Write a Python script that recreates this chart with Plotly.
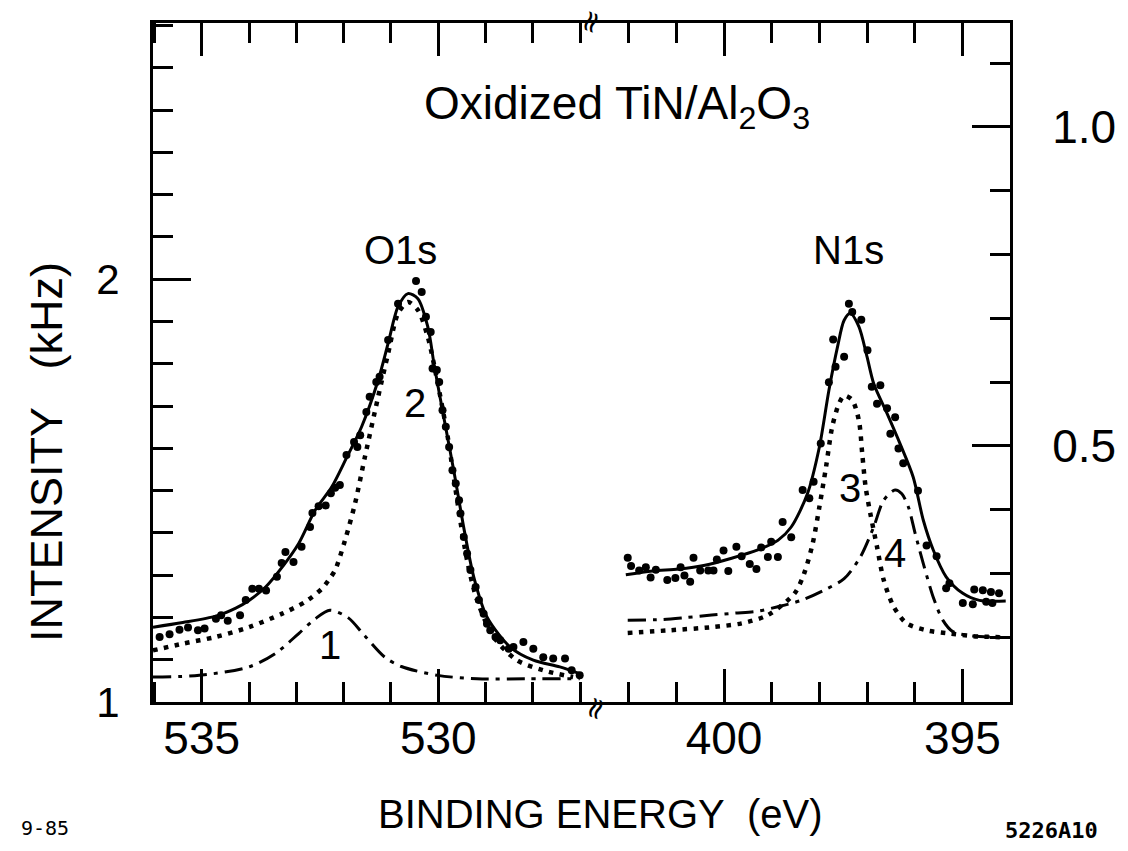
import plotly.graph_objects as go

# ---------------- O1s panel (left axis, kHz) ----------------
o1s_fit_x = [536.03, 535.40, 534.70, 534.28, 534.00, 533.65, 533.30, 532.95, 532.60, 532.25,
             531.95, 531.62, 531.27, 531.06, 530.85, 530.64, 530.43, 530.22, 530.08, 529.87,
             529.66, 529.45, 529.25, 528.97, 528.48, 527.99, 527.43, 527.01]
o1s_fit_y = [1.177, 1.188, 1.203, 1.222, 1.240, 1.272, 1.319, 1.375, 1.454, 1.509,
             1.575, 1.651, 1.761, 1.848, 1.935, 1.966, 1.954, 1.887, 1.793, 1.666,
             1.540, 1.406, 1.296, 1.201, 1.130, 1.099, 1.083, 1.067]

o1s_c2_x = [536.03, 535.40, 534.70, 534.00, 533.30, 532.81, 532.46, 532.32, 532.18, 531.97,
            531.76, 531.55, 531.27, 531.06, 530.85, 530.64, 530.43, 530.22, 530.01, 529.80,
            529.60, 529.39, 529.18, 528.83, 528.34, 527.78, 527.15]
o1s_c2_y = [1.122, 1.138, 1.154, 1.177, 1.209, 1.237, 1.268, 1.288, 1.312, 1.383,
            1.469, 1.580, 1.722, 1.824, 1.919, 1.946, 1.927, 1.863, 1.753, 1.627,
            1.477, 1.335, 1.241, 1.154, 1.099, 1.075, 1.059]

o1s_c1_x = [536.03, 535.05, 534.00, 533.44, 532.95, 532.60, 532.29, 531.90, 531.55, 531.13,
            530.78, 530.01, 529.18, 528.13, 527.01]
o1s_c1_y = [1.059, 1.063, 1.083, 1.115, 1.162, 1.197, 1.217, 1.199, 1.156, 1.106,
            1.084, 1.063, 1.055, 1.055, 1.055]

o1s_data_x = [535.89, 535.68, 535.47, 535.29, 535.08, 534.94, 534.70, 534.59, 534.45, 534.19,
              534.07, 533.93, 533.79, 533.64, 533.41, 533.31, 533.23, 533.06, 532.89, 532.71,
              532.66, 532.53, 532.38, 532.27, 532.18, 532.08, 531.94, 531.78, 531.71, 531.65,
              531.52, 531.45, 531.31, 531.24, 531.06, 530.85, 530.47, 530.35, 530.26, 530.16,
              530.12, 530.03, 529.98, 529.91, 529.84, 529.77, 529.70, 529.63, 529.56, 529.53,
              529.46, 529.39, 529.32, 529.21, 529.14, 529.04, 528.97, 528.90, 528.79, 528.69,
              528.51, 528.41, 528.20, 527.99, 527.78, 527.57, 527.32, 527.18, 527.01]
o1s_data_y = [1.154, 1.160, 1.171, 1.176, 1.170, 1.174, 1.197, 1.205, 1.192, 1.205,
              1.241, 1.268, 1.268, 1.264, 1.296, 1.329, 1.355, 1.331, 1.367, 1.414,
              1.447, 1.463, 1.465, 1.494, 1.507, 1.513, 1.584, 1.615, 1.603, 1.631,
              1.686, 1.722, 1.757, 1.769, 1.856, 1.942, 1.996, 1.970, 1.911, 1.875,
              1.789, 1.785, 1.757, 1.690, 1.651, 1.603, 1.548, 1.517, 1.477, 1.446,
              1.390, 1.351, 1.312, 1.272, 1.241, 1.209, 1.185, 1.170, 1.154, 1.146,
              1.126, 1.130, 1.142, 1.126, 1.106, 1.103, 1.103, 1.075, 1.063]

# ---------------- N1s panel (right axis) ----------------
n1s_fit_x = [402.06, 401.50, 400.95, 400.40, 399.84, 399.29, 398.87, 398.59, 398.25, 398.00,
             397.80, 397.62, 397.48, 397.35, 397.17, 397.00, 396.86, 396.58, 396.31, 396.03,
             395.82, 395.61, 395.34, 394.99, 394.64, 394.09]
n1s_fit_y = [0.298, 0.304, 0.307, 0.313, 0.324, 0.337, 0.352, 0.373, 0.425, 0.498,
             0.587, 0.655, 0.697, 0.708, 0.687, 0.640, 0.598, 0.551, 0.504, 0.451,
             0.384, 0.337, 0.295, 0.269, 0.258, 0.257]

n1s_c3_x = [402.02, 401.16, 400.26, 399.63, 399.08, 398.52, 398.32, 398.14, 398.00, 397.86,
            397.73, 397.59, 397.48, 397.31, 397.17, 397.10, 397.03, 396.93, 396.79, 396.65,
            396.44, 396.17, 395.75, 395.27, 394.78, 394.09]
n1s_c3_y = [0.207, 0.211, 0.216, 0.222, 0.235, 0.269, 0.300, 0.347, 0.404, 0.467,
            0.530, 0.566, 0.579, 0.572, 0.540, 0.488, 0.436, 0.394, 0.342, 0.290,
            0.248, 0.222, 0.211, 0.206, 0.202, 0.200]

n1s_c4_x = [402.02, 401.30, 400.81, 400.26, 399.77, 399.29, 398.87, 398.38, 397.90, 397.48,
            397.14, 396.86, 396.65, 396.41, 396.27, 396.13, 395.99, 395.82, 395.61, 395.41,
            395.20, 394.78, 394.09]
n1s_c4_y = [0.227, 0.228, 0.231, 0.235, 0.238, 0.241, 0.248, 0.258, 0.274, 0.292,
            0.326, 0.373, 0.415, 0.431, 0.425, 0.404, 0.363, 0.316, 0.263, 0.227,
            0.209, 0.202, 0.200]

n1s_data_x = [402.02, 401.95, 401.78, 401.64, 401.54, 401.43, 401.19, 401.02, 400.91, 400.83,
              400.71, 400.64, 400.50, 400.33, 400.22, 400.15, 400.01, 399.91, 399.74, 399.63,
              399.46, 399.32, 399.22, 399.08, 399.01, 398.87, 398.77, 398.59, 398.35, 398.21,
              398.12, 397.97, 397.80, 397.71, 397.66, 397.48, 397.38, 397.31, 397.12, 396.99,
              396.90, 396.79, 396.72, 396.58, 396.51, 396.41, 396.34, 396.24, 395.93, 395.75,
              395.54, 395.34, 395.27, 394.99, 394.78, 394.75, 394.57, 394.50, 394.40, 394.37,
              394.23]
n1s_data_y = [0.325, 0.312, 0.305, 0.310, 0.294, 0.306, 0.290, 0.293, 0.310, 0.297,
              0.287, 0.325, 0.305, 0.305, 0.305, 0.322, 0.336, 0.304, 0.342, 0.327,
              0.315, 0.307, 0.341, 0.326, 0.350, 0.326, 0.381, 0.357, 0.431, 0.418,
              0.444, 0.504, 0.600, 0.667, 0.624, 0.640, 0.723, 0.710, 0.698, 0.650,
              0.593, 0.566, 0.595, 0.559, 0.519, 0.545, 0.496, 0.473, 0.430, 0.344,
              0.327, 0.277, 0.285, 0.254, 0.252, 0.275, 0.274, 0.256, 0.271, 0.254,
              0.269]

left_ticks = [530, 535]
right_ticks = [395, 400]
left_y_ticks = [1, 2]
right_y_ticks = [0.5, 1.0]
right_y_labels = ["0.5", "1.0"]

FONT = "Liberation Sans"
K = "black"

fig = go.Figure()

spline = dict(shape="spline", smoothing=0.8)
DOT = "4.5px,6.5px"
DASHDOT = "18px,7px,4px,7px"

# O1s
fig.add_trace(go.Scatter(x=o1s_c1_x, y=o1s_c1_y, mode="lines", xaxis="x", yaxis="y",
                         line=dict(color=K, width=3, dash=DASHDOT, **spline)))
fig.add_trace(go.Scatter(x=o1s_c2_x, y=o1s_c2_y, mode="lines", xaxis="x", yaxis="y",
                         line=dict(color=K, width=4.5, dash=DOT, **spline)))
fig.add_trace(go.Scatter(x=o1s_fit_x, y=o1s_fit_y, mode="lines", xaxis="x", yaxis="y",
                         line=dict(color=K, width=3, **spline)))
fig.add_trace(go.Scatter(x=o1s_data_x, y=o1s_data_y, mode="markers", xaxis="x", yaxis="y",
                         marker=dict(color=K, size=8)))
# N1s
fig.add_trace(go.Scatter(x=n1s_c4_x, y=n1s_c4_y, mode="lines", xaxis="x2", yaxis="y2",
                         line=dict(color=K, width=3, dash=DASHDOT, **spline)))
fig.add_trace(go.Scatter(x=n1s_c3_x, y=n1s_c3_y, mode="lines", xaxis="x2", yaxis="y2",
                         line=dict(color=K, width=4.5, dash=DOT, **spline)))
fig.add_trace(go.Scatter(x=n1s_fit_x, y=n1s_fit_y, mode="lines", xaxis="x2", yaxis="y2",
                         line=dict(color=K, width=3, **spline)))
fig.add_trace(go.Scatter(x=n1s_data_x, y=n1s_data_y, mode="markers", xaxis="x2", yaxis="y2",
                         marker=dict(color=K, size=8)))

BRK = 0.515
tickfont = dict(family=FONT, size=46, color=K)
xcommon = dict(showline=True, linewidth=3, linecolor=K, mirror="ticks", ticks="inside",
               ticklen=33, tickwidth=2.5, tickcolor=K, showgrid=False, zeroline=False,
               tickfont=tickfont, ticklabelstandoff=-6)

fig.update_layout(
    width=1128, height=851,
    margin=dict(l=153, r=111, t=23, b=149),
    paper_bgcolor="white", plot_bgcolor="white",
    showlegend=False,
    xaxis=dict(domain=[0, BRK], anchor="y", range=[536.03, 526.70], tickmode="array",
               tickvals=left_ticks,
               minor=dict(tickmode="linear", tick0=527, dtick=1, ticklen=20, tickwidth=2.5,
                          tickcolor=K, ticks="inside"), **xcommon),
    xaxis2=dict(domain=[BRK, 1], anchor="y2", range=[402.72, 394.0], tickmode="array",
                tickvals=right_ticks,
                minor=dict(tickmode="linear", tick0=394, dtick=1, ticklen=20, tickwidth=2.5,
                           tickcolor=K, ticks="inside"), **xcommon),
    yaxis=dict(domain=[0, 1], anchor="x", range=[1, 2.606], tickmode="array",
               tickvals=left_y_ticks, ticks="inside", ticklen=38, tickwidth=2.5, tickcolor=K,
               showline=True, linewidth=3, linecolor=K, showgrid=False, zeroline=False,
               tickfont=dict(family=FONT, size=42, color=K), ticklabelstandoff=22,
               minor=dict(tickmode="linear", tick0=1, dtick=0.1, ticklen=20, tickwidth=2.5,
                          tickcolor=K, ticks="inside")),
    yaxis2=dict(domain=[0, 1], anchor="x2", side="right", range=[0.0987, 1.163],
                tickmode="array", tickvals=right_y_ticks, ticktext=right_y_labels,
                ticks="inside", ticklen=38, tickwidth=2.5, tickcolor=K,
                showline=True, linewidth=3, linecolor=K, showgrid=False, zeroline=False,
                tickfont=dict(family=FONT, size=46, color=K), ticklabelstandoff=30,
                minor=dict(tickmode="linear", tick0=0, dtick=0.1, ticklen=20, tickwidth=2.5,
                           tickcolor=K, ticks="inside")),
)


def px(x):
    return (x - 153) / 864


def py(y):
    return (701.7 - y) / 678.7


lab = dict(family=FONT, size=40, color=K)
C = dict(showarrow=False, xanchor="center", yanchor="middle")
ann = [
    dict(text="Oxidized TiN/Al<sub>2</sub>O<sub>3</sub>", xref="paper", yref="paper",
         x=px(621), y=py(106), font=dict(family=FONT, size=46, color=K), **C),
    dict(text="O1s", xref="x", yref="y", x=530.79, y=2.069, font=lab, **C),
    dict(text="2", xref="x", yref="y", x=530.50, y=1.707, font=lab, **C),
    dict(text="1", xref="x", yref="y", x=532.29, y=1.134, font=lab, **C),
    dict(text="N1s", xref="x2", yref="y2", x=397.38, y=0.807, font=lab, **C),
    dict(text="3", xref="x2", yref="y2", x=397.35, y=0.4345, font=lab, **C),
    dict(text="4", xref="x2", yref="y2", x=396.41, y=0.332, font=lab, **C),
    dict(text="INTENSITY\u00a0\u00a0\u00a0(kHz)", xref="paper", yref="paper",
         x=px(45), y=py(452), textangle=-90, font=dict(family=FONT, size=45, color=K), **C),
    dict(text="BINDING ENERGY\u00a0\u00a0(eV)", xref="paper", yref="paper",
         x=px(604), y=py(814), font=lab, **C),
    dict(text="9-85", xref="paper", yref="paper", x=px(44), y=py(828),
         font=dict(family="DejaVu Sans Mono", size=20, color=K), **C),
    dict(text="<b>5226A10</b>", xref="paper", yref="paper", x=px(1059), y=py(830),
         font=dict(family="DejaVu Sans Mono", size=22, color=K), **C),
    dict(text="≈", xref="paper", yref="paper", x=px(594), y=py(22), textangle=-70,
         font=dict(family="DejaVu Sans", size=30, color=K), **C),
    dict(text="≈", xref="paper", yref="paper", x=px(598), y=py(708), textangle=-70,
         font=dict(family="DejaVu Sans", size=30, color=K), **C),
]
fig.update_layout(annotations=ann)

fig.write_html("out.html")
